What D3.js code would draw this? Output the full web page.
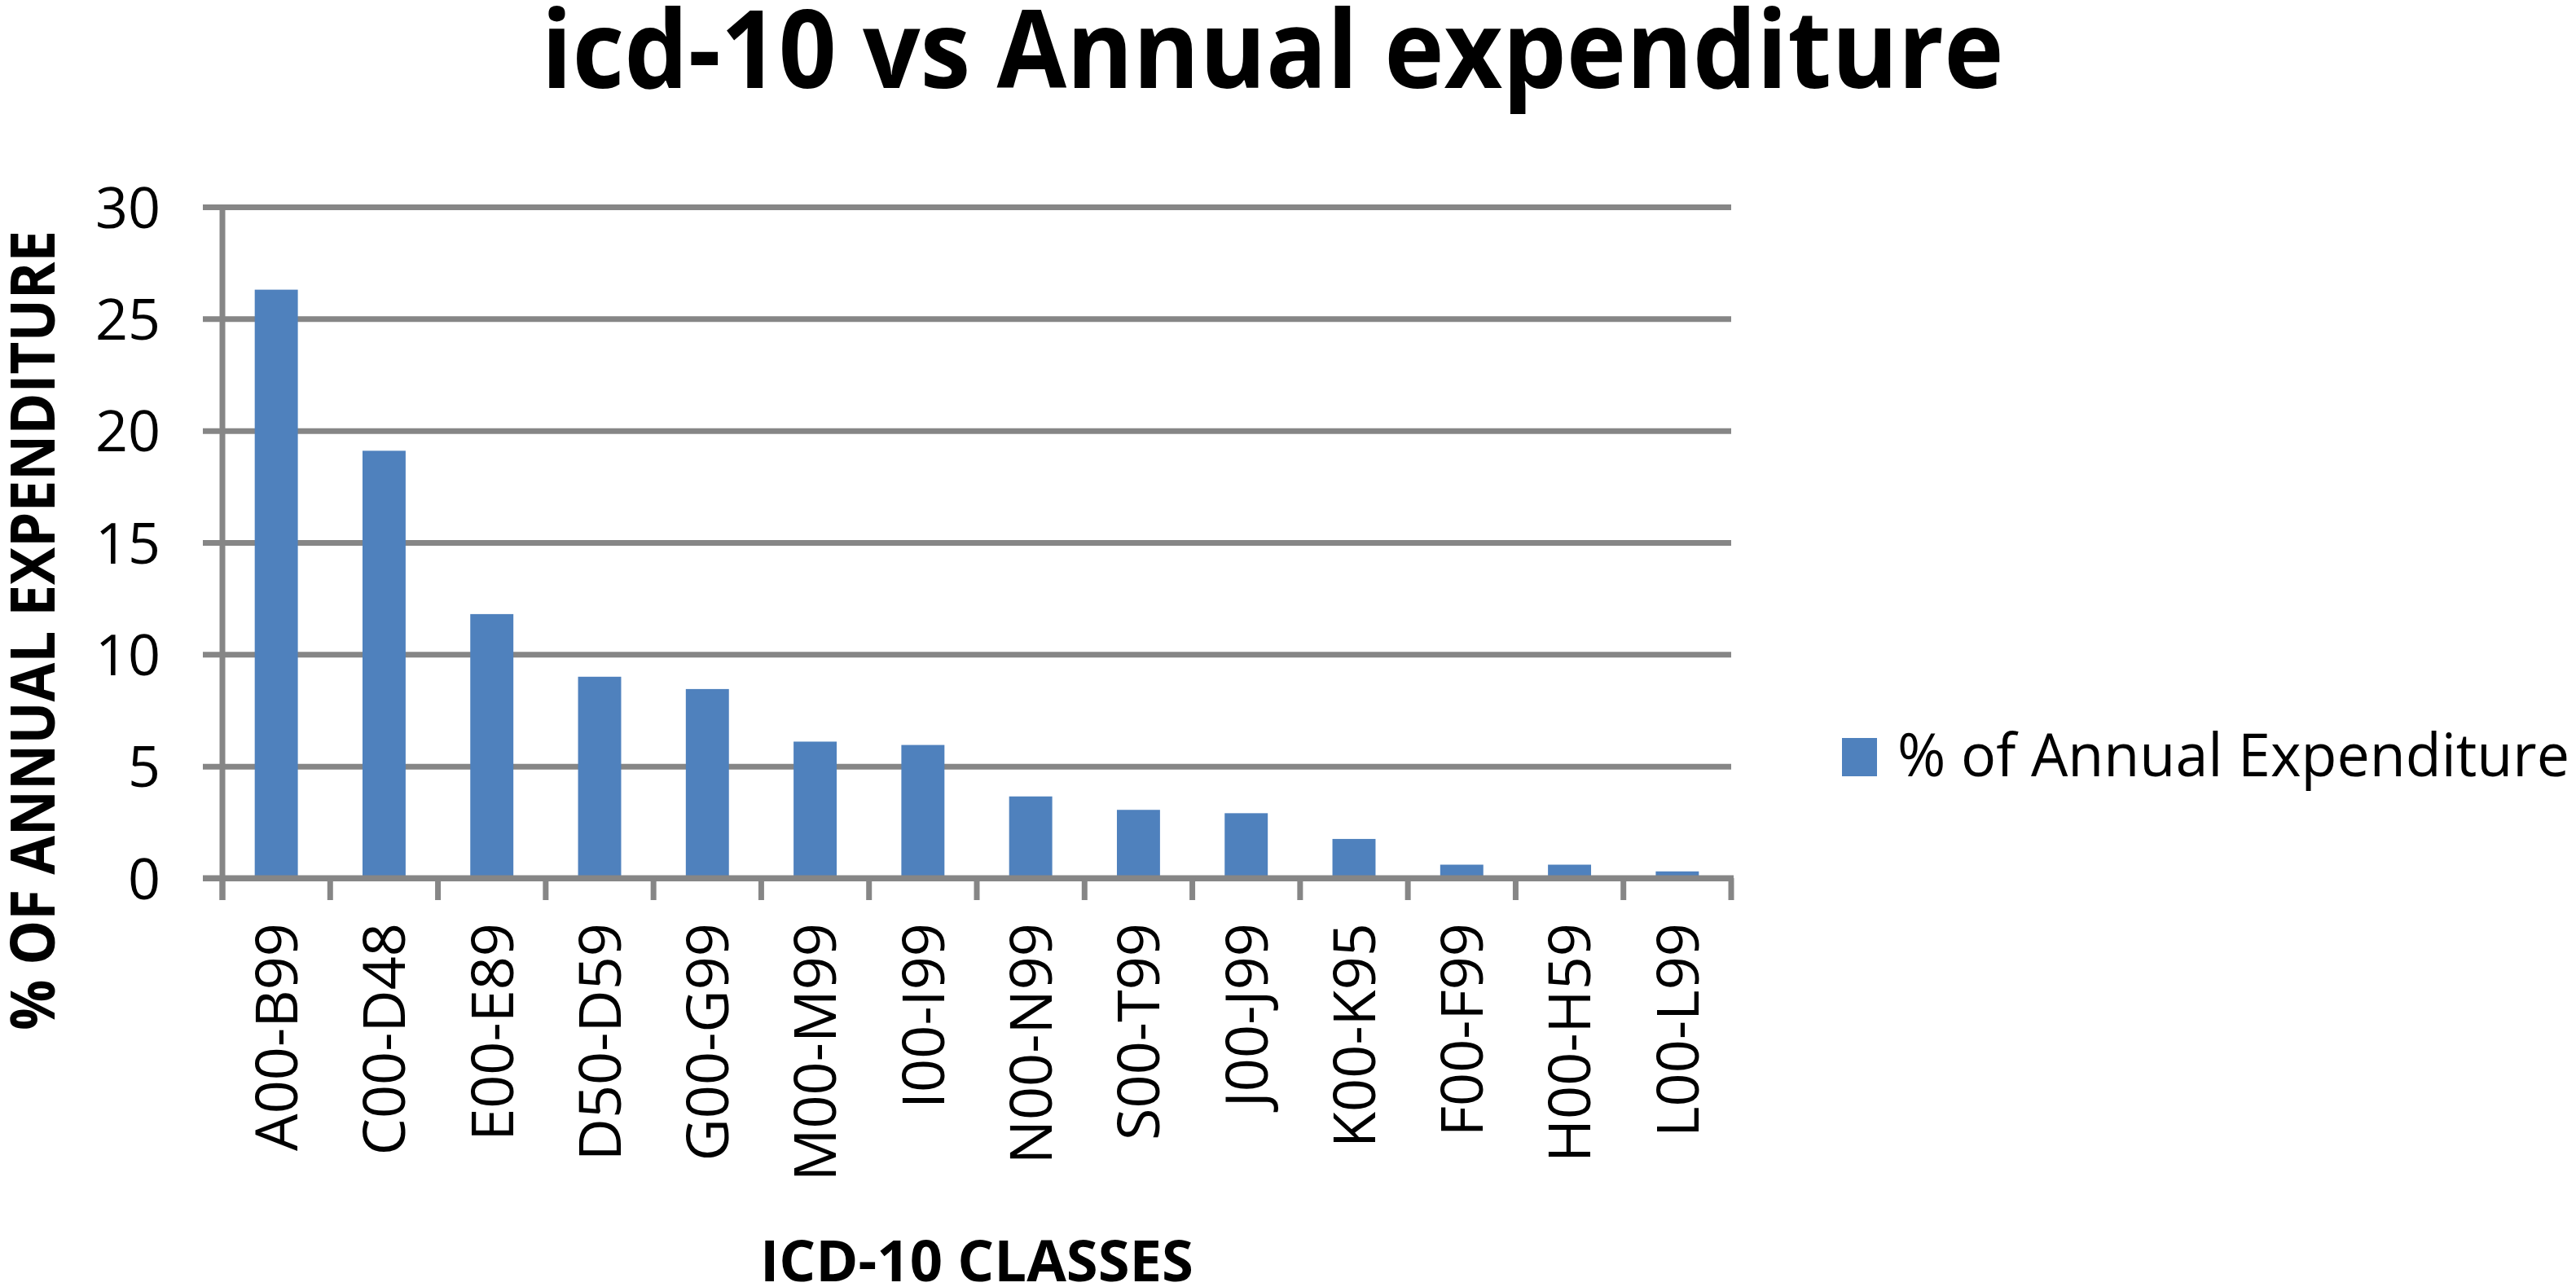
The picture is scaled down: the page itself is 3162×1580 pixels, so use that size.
<!DOCTYPE html>
<html>
<head>
<meta charset="utf-8">
<script src="https://cdn.jsdelivr.net/npm/d3@7"></script>
<style>
  body { margin: 0; background: #fff; }
  text { font-family: "Open Sans", "Liberation Sans", sans-serif; fill: #000; }
</style>
</head>
<body>
<script>
var categories = ["A00-B99", "C00-D48", "E00-E89", "D50-D59", "G00-G99", "M00-M99", "I00-I99",
                  "N00-N99", "S00-T99", "J00-J99", "K00-K95", "F00-F99", "H00-H59", "L00-L99"];
var values = [26.3, 19.1, 11.8, 9.0, 8.45, 6.1, 5.95, 3.65, 3.05, 2.9, 1.75, 0.6, 0.6, 0.3];
var yTicks = [0, 5, 10, 15, 20, 25, 30];
var seriesName = "% of Annual Expenditure";

var width = 3162;
var height = 1580;

var svg = d3.select("body")
            .append("svg")
            .attr("width", width)
            .attr("height", height);

svg.append("rect").attr("width", width).attr("height", height).attr("fill", "#fff");

// plot area (note: "top" is taken by window.top, so prefixed names)
var plotLeft = 273, plotRight = 2125, plotTop = 254, plotBottom = 1078;
var grey = "#868686";

var x = d3.scaleBand().domain(categories).range([plotLeft, plotRight]).paddingInner(0.6).paddingOuter(0.3);
var y = d3.scaleLinear().domain([0, 30]).range([plotBottom, plotTop]);

// gridlines + y labels
var yaxis = svg.append("g")
               .attr("transform", "translate(" + plotLeft + ",0)")
               .call(d3.axisLeft(y).tickValues(yTicks).tickSize(-(plotRight - plotLeft)).tickFormat(d3.format("d")));
yaxis.select(".domain").remove();
yaxis.selectAll("line")
     .attr("x1", -24)
     .attr("stroke", grey)
     .attr("stroke-width", 7);
yaxis.selectAll("text")
     .attr("x", 197 - plotLeft)
     .attr("dy", "0.36em")
     .attr("fill", "#000")
     .style("font-size", "70px")
     .style("font-family", "Open Sans");

// bars
svg.selectAll(".bar")
   .data(values)
   .enter()
   .append("rect")
   .attr("class", "bar")
   .attr("x", function (d, i) { return x(categories[i]); })
   .attr("y", function (d) { return y(d); })
   .attr("width", x.bandwidth())
   .attr("height", function (d) { return y(0) - y(d); })
   .attr("fill", "#4F81BD");

// x axis line and boundary ticks
var step = x.step();
var edges = categories.map(function (c) { return x(c) - step * 0.3; });
edges.push(plotRight);
svg.append("line")
   .attr("x1", plotLeft - 24).attr("x2", plotRight + 3)
   .attr("y1", y(0)).attr("y2", y(0))
   .attr("stroke", grey).attr("stroke-width", 7);
svg.selectAll(".xtick")
   .data(edges)
   .enter()
   .append("line")
   .attr("class", "xtick")
   .attr("x1", function (d) { return d; })
   .attr("x2", function (d) { return d; })
   .attr("y1", y(0))
   .attr("y2", y(0) + 27)
   .attr("stroke", grey).attr("stroke-width", 7);
// y axis line
svg.append("line")
   .attr("x1", plotLeft).attr("x2", plotLeft)
   .attr("y1", y(30) - 3).attr("y2", y(0) + 27)
   .attr("stroke", grey).attr("stroke-width", 7);

// category labels
svg.selectAll(".catlabel")
   .data(categories)
   .enter()
   .append("text")
   .attr("class", "catlabel")
   .attr("transform", function (d) {
       return "translate(" + (x(d) + x.bandwidth() / 2) + ",1133) rotate(-90)";
   })
   .attr("dy", "0.36em")
   .style("text-anchor", "end")
   .style("font-size", "72px")
   .text(function (d) { return d; });

// titles
svg.append("text")
   .attr("x", 1562).attr("y", 108)
   .style("text-anchor", "middle")
   .style("font-size", "132px")
   .style("font-weight", "bold")
   .attr("textLength", 1795)
   .attr("lengthAdjust", "spacingAndGlyphs")
   .text("icd-10 vs Annual expenditure");

svg.append("text")
   .attr("x", (plotLeft + plotRight) / 2).attr("y", 1573)
   .style("text-anchor", "middle")
   .style("font-size", "70px")
   .style("font-weight", "bold")
   .attr("textLength", 532)
   .attr("lengthAdjust", "spacingAndGlyphs")
   .text("ICD-10 CLASSES");

svg.append("text")
   .attr("transform", "translate(67,774) rotate(-90)")
   .style("text-anchor", "middle")
   .style("font-size", "75px")
   .style("font-weight", "bold")
   .attr("textLength", 982)
   .attr("lengthAdjust", "spacingAndGlyphs")
   .text("% OF ANNUAL EXPENDITURE");

// legend
var legend = svg.append("g");
legend.append("rect")
      .attr("x", 2261).attr("y", 906)
      .attr("width", 43).attr("height", 47)
      .attr("fill", "#4F81BD");
legend.append("text")
      .attr("x", 2329).attr("y", 953)
      .style("font-size", "74px")
      .attr("textLength", 825)
      .attr("lengthAdjust", "spacingAndGlyphs")
      .text(seriesName);
</script>
</body>
</html>
